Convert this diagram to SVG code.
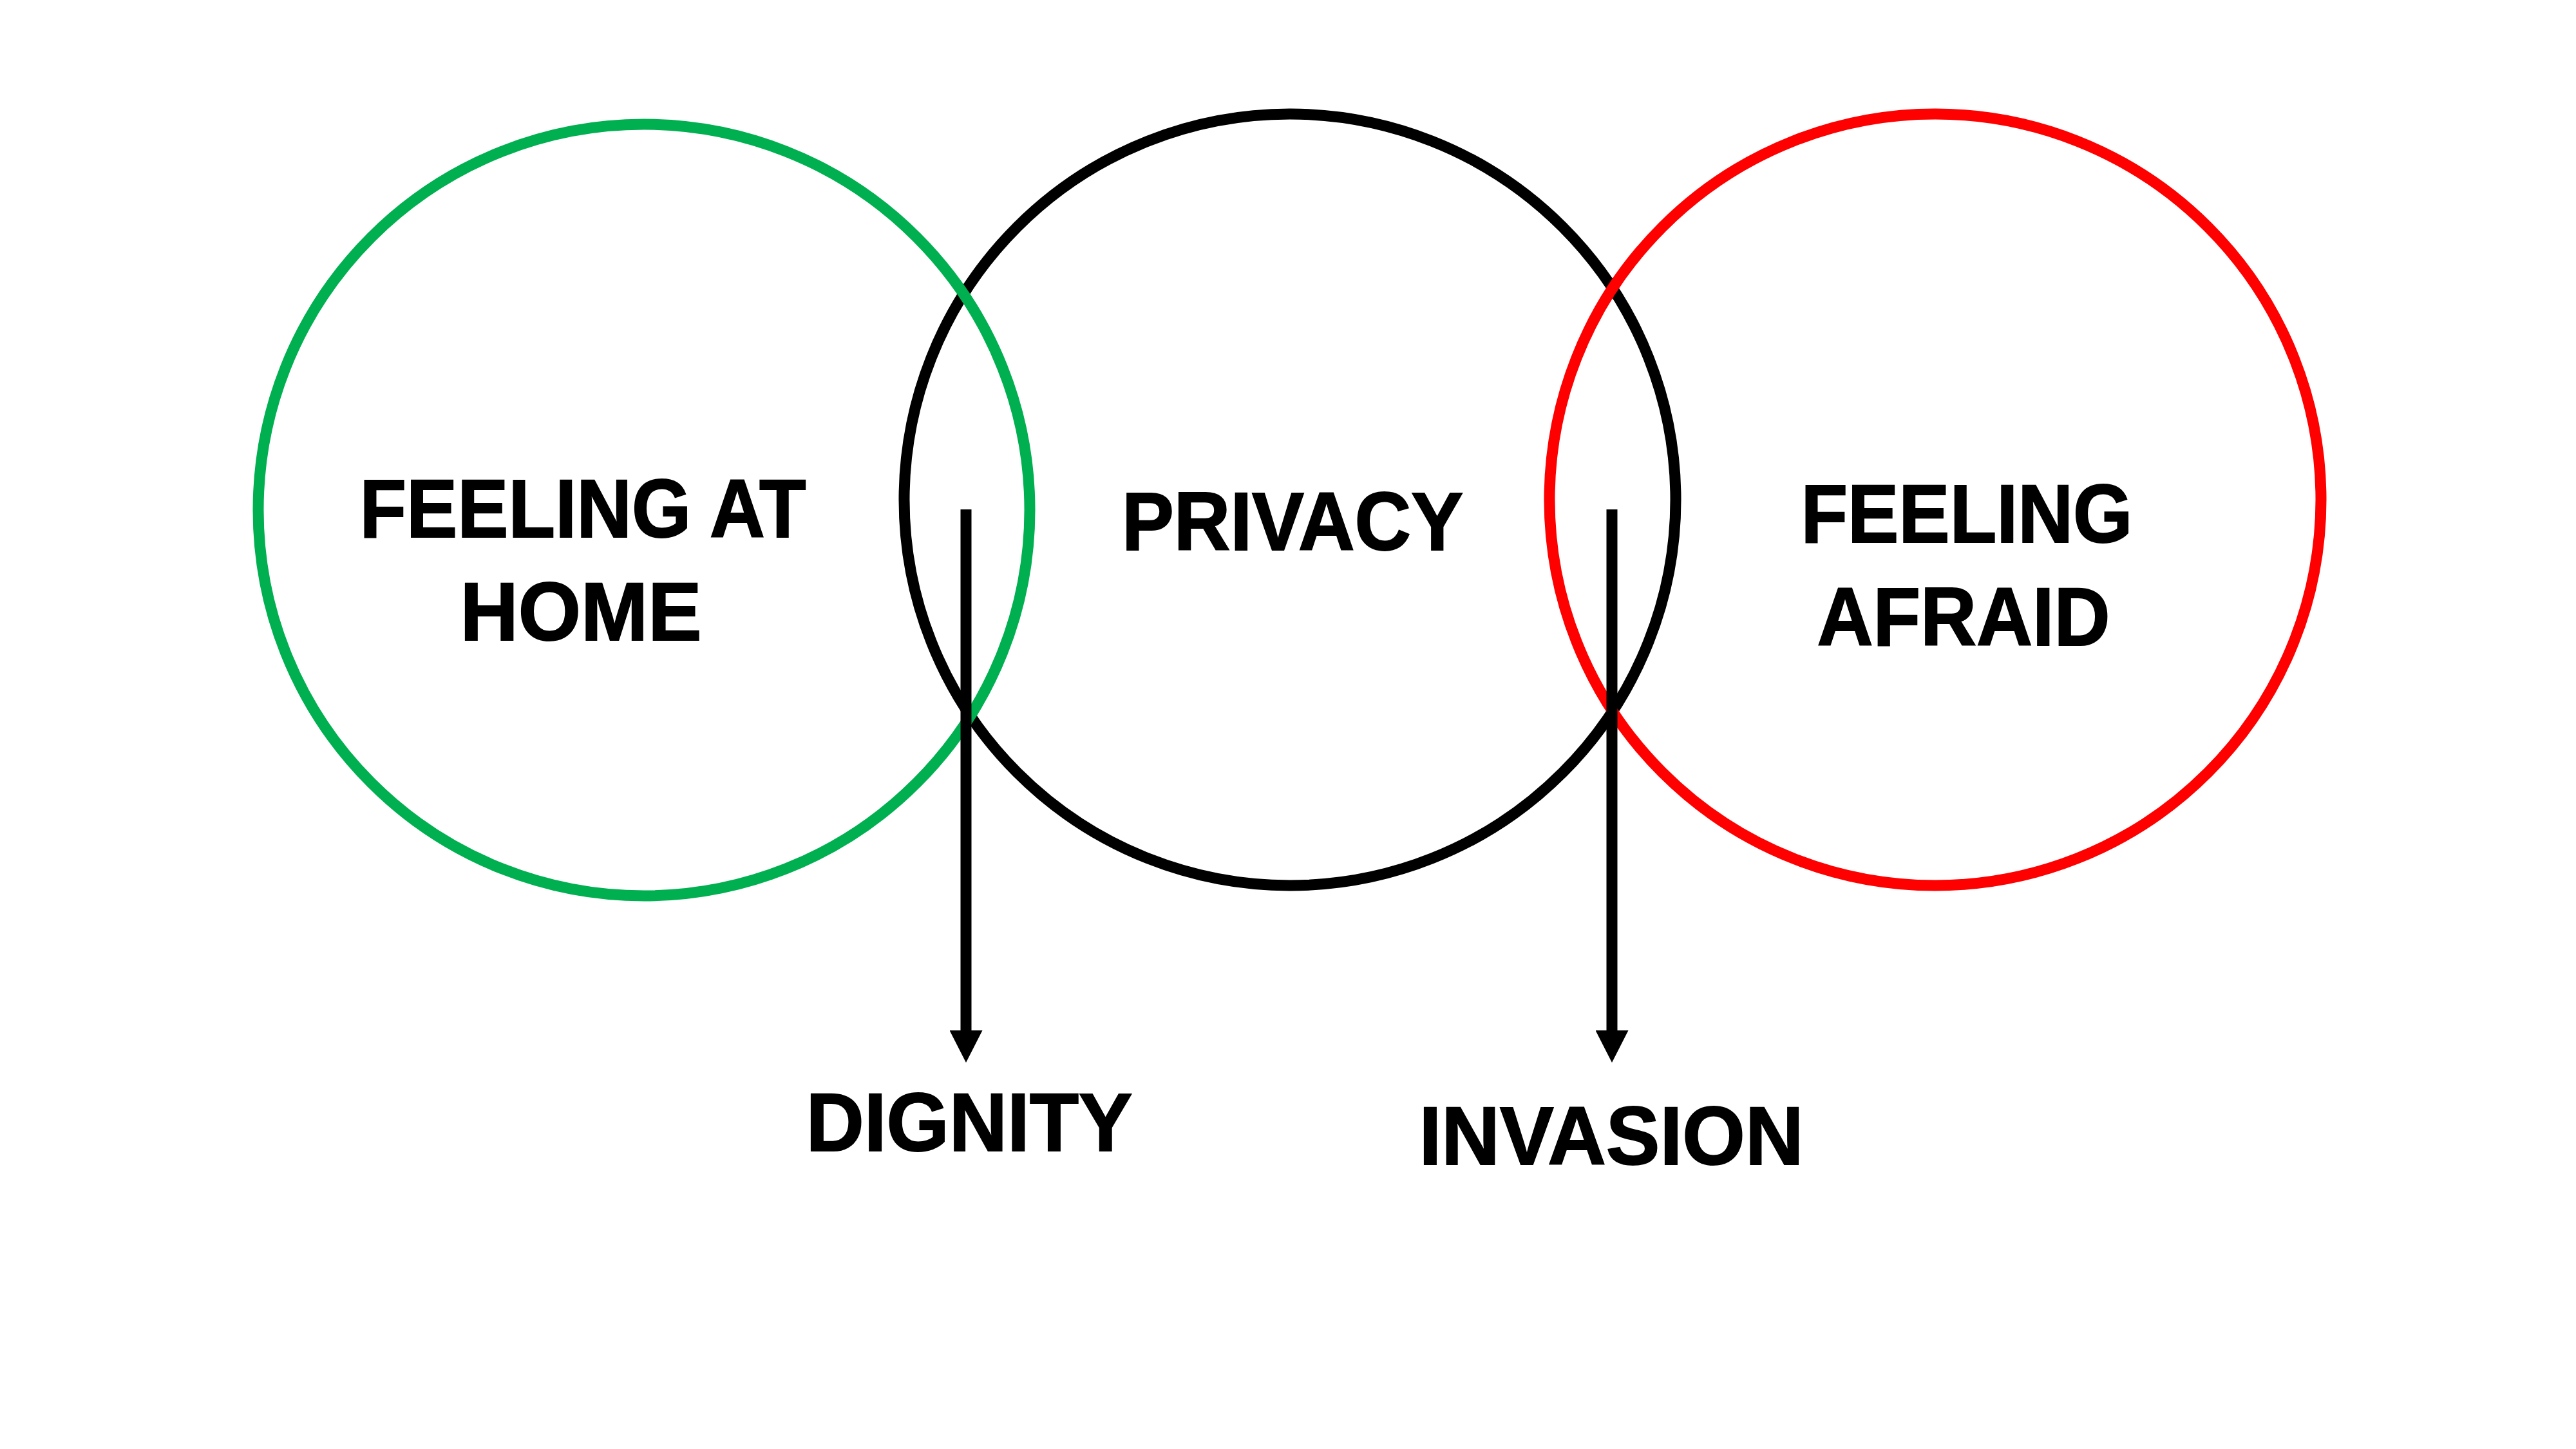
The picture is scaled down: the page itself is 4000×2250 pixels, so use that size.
<svg xmlns="http://www.w3.org/2000/svg" width="4000" height="2250" viewBox="0 0 4000 2250">
<style>
.ring{fill:none;stroke-width:17}
.lbl{font-family:"Liberation Sans",Arial,Helvetica,sans-serif;font-weight:bold;font-size:128px;fill:#000;stroke:#000;stroke-width:2;text-anchor:middle}
.conn{stroke:#000;stroke-width:17;fill:none}
</style>
<defs>
<marker id="arrow" markerUnits="userSpaceOnUse" viewBox="0 0 50 51" refX="0" refY="25.5" markerWidth="50" markerHeight="51" orient="auto">
<path d="M0,0 L50,25.5 L0,51 Z" fill="#000"/>
</marker>
</defs>
<rect width="4000" height="2250" fill="#fff"/>
<g id="privacy">
<circle class="ring" cx="2003" cy="776" r="599" stroke="#000"/>
<text class="lbl" x="2007" y="854" textLength="530" lengthAdjust="spacingAndGlyphs">PRIVACY</text>
</g>
<g id="feeling-at-home">
<circle class="ring" cx="1000" cy="792" r="599" stroke="#00B050"/>
<text class="lbl" x="905" y="834" textLength="693" lengthAdjust="spacingAndGlyphs">FEELING AT</text>
<text class="lbl" x="902" y="994" textLength="375" lengthAdjust="spacingAndGlyphs">HOME</text>
</g>
<g id="feeling-afraid">
<circle class="ring" cx="3005" cy="776" r="599" stroke="#FF0000"/>
<text class="lbl" x="3054" y="842" textLength="515" lengthAdjust="spacingAndGlyphs">FEELING</text>
<text class="lbl" x="3049" y="1002" textLength="455" lengthAdjust="spacingAndGlyphs">AFRAID</text>
</g>
<g id="dignity">
<text class="lbl" x="1505" y="1787" textLength="507" lengthAdjust="spacingAndGlyphs">DIGNITY</text>
</g>
<g id="invasion">
<text class="lbl" x="2502" y="1808" textLength="597" lengthAdjust="spacingAndGlyphs">INVASION</text>
</g>
<g id="connectors">
<line class="conn" x1="1500" y1="791" x2="1500" y2="1600" marker-end="url(#arrow)"/>
<line class="conn" x1="2503" y1="791" x2="2503" y2="1600" marker-end="url(#arrow)"/>
</g>
</svg>
